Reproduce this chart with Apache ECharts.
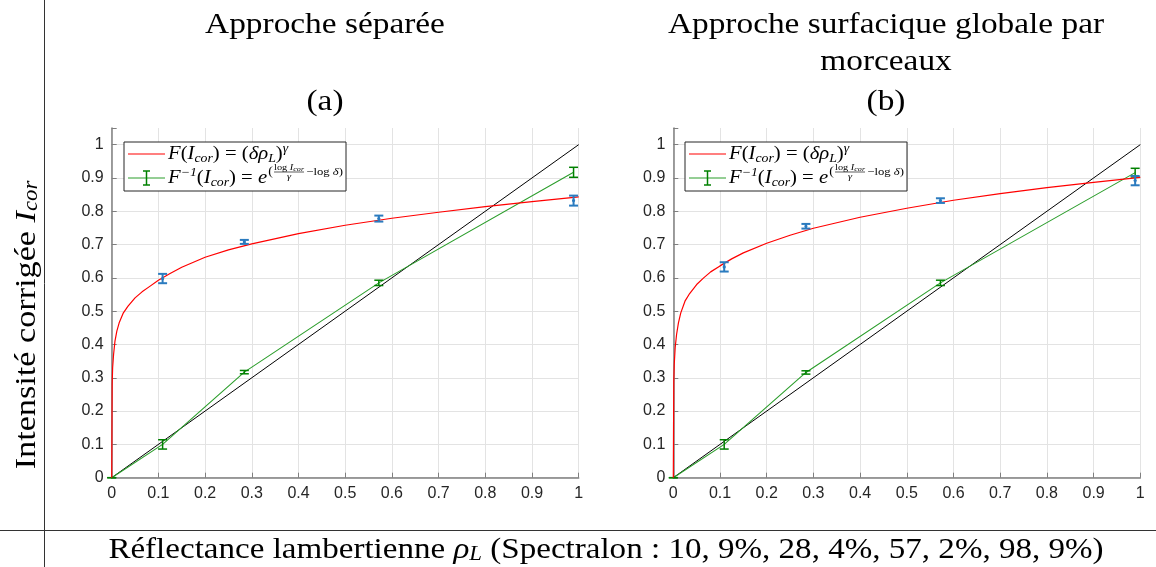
<!DOCTYPE html>
<html>
<head>
<meta charset="utf-8">
<script src="https://cdn.jsdelivr.net/npm/echarts@6/dist/echarts.min.js"></script>
<style>
  html, body { margin: 0; padding: 0; background: #fff; }
  #chart { width: 1156px; height: 567px; }
</style>
</head>
<body>
<div id="chart"></div>
<script>
// Spectralon reflectances (x of the measured points)
const reflectance = [0.109, 0.284, 0.572, 0.989]

// (a) separate approach
const measuredA = [0.598, 0.708, 0.778, 0.832]
const measuredErrA = [0.014, 0.006, 0.009, 0.015]
const inverseA = [0.100, 0.317, 0.585, 0.917]
const inverseErrA = [0.014, 0.005, 0.008, 0.015]
const fitXA = [0, 0.001, 0.002, 0.004, 0.007, 0.011, 0.016, 0.025, 0.035, 0.05, 0.065, 0.08, 0.1,
  0.125, 0.15, 0.2, 0.25, 0.3, 0.4, 0.5, 0.6, 0.7, 0.8, 0.9, 1.0]
const fitYA = [0, 0.28, 0.33, 0.37, 0.41, 0.44, 0.465, 0.495, 0.515, 0.54, 0.558, 0.573, 0.593,
  0.613, 0.632, 0.662, 0.684, 0.702, 0.733, 0.758, 0.779, 0.797, 0.814, 0.829, 0.843]

// (b) piecewise global surface approach
const measuredB = [0.633, 0.755, 0.832, 0.892]
const measuredErrB = [0.014, 0.007, 0.007, 0.014]
const inverseB = [0.100, 0.316, 0.585, 0.916]
const inverseErrB = [0.014, 0.005, 0.008, 0.013]
const fitXB = fitXA
const fitYB = [0, 0.29, 0.34, 0.39, 0.43, 0.465, 0.495, 0.53, 0.553, 0.58, 0.6, 0.618, 0.636,
  0.657, 0.675, 0.704, 0.728, 0.749, 0.782, 0.809, 0.833, 0.853, 0.871, 0.887, 0.902]

const identity = [[0, 0], [1, 1]]

const serif = 'Liberation Serif'
const sans = 'Liberation Sans'
const blue = '#2b7bbf'
const green = '#008000'
const stretch = 1.15 // Liberation Serif is narrower than the LaTeX font

function pairs(xs, ys) {
  return xs.map((x, i) => [x, ys[i]])
}
function withOrigin(vals) {
  return [[0, 0]].concat(reflectance.map((x, i) => [x, vals[i]]))
}
function errData(vals, errs, origin) {
  const rows = reflectance.map((x, i) => [x, vals[i] - errs[i], vals[i] + errs[i], vals[i]])
  return origin ? [[0, 0, 0, 0]].concat(rows) : rows
}

function errorBar(color, width, dot) {
  return function(params, api) {
    const x = api.value(0)
    const lo = api.coord([x, api.value(1)])
    const hi = api.coord([x, api.value(2)])
    const mid = api.coord([x, api.value(3)])
    const half = 4.5
    const style = { stroke: color, lineWidth: width }
    const children = [
      { type: 'line', shape: { x1: lo[0], y1: lo[1], x2: hi[0], y2: hi[1] }, style },
      { type: 'line', shape: { x1: lo[0] - half, y1: lo[1], x2: lo[0] + half, y2: lo[1] }, style },
      { type: 'line', shape: { x1: hi[0] - half, y1: hi[1], x2: hi[0] + half, y2: hi[1] }, style }
    ]
    if (dot) children.push({ type: 'circle', shape: { cx: mid[0], cy: mid[1], r: 1.6 }, style: { fill: color } })
    return { type: 'group', children }
  }
}

const gridColors = ['#e3e3e3', '#e3e3e3', '#e3e3e3', '#e3e3e3', '#e3e3e3', '#e3e3e3',
  '#e3e3e3', '#e3e3e3', '#e3e3e3', '#e3e3e3', '#e3e3e3', 'rgba(0,0,0,0)']

function xAxis(idx) {
  return {
    type: 'value', gridIndex: idx, min: 0, max: 1, interval: 0.1,
    axisLine: { lineStyle: { color: '#7f7f7f', width: 1.5 } },
    axisTick: { inside: true, length: 5, lineStyle: { color: '#7f7f7f' } },
    axisLabel: { color: '#262626', fontFamily: sans, fontSize: 16, margin: 8,
      formatter: v => String(+v.toFixed(1)) },
    splitLine: { show: true, lineStyle: { color: '#e3e3e3', width: 1 } }
  }
}
function yAxis(idx) {
  return {
    type: 'value', gridIndex: idx, min: 0, max: 1.05, interval: 0.1,
    axisLine: { show: true, lineStyle: { color: '#7f7f7f', width: 1.5 } },
    axisTick: { show: true, inside: true, length: 5, lineStyle: { color: '#7f7f7f' } },
    axisLabel: { color: '#262626', fontFamily: sans, fontSize: 16, margin: 8,
      formatter: v => (v > 1.001 ? '' : String(+v.toFixed(1))) },
    splitLine: { show: true, lineStyle: { color: gridColors, width: 1 } }
  }
}

function plotSeries(idx, fit, measured, measuredErr, inverse, inverseErr) {
  return [
    { type: 'line', xAxisIndex: idx, yAxisIndex: idx, data: identity, showSymbol: false,
      lineStyle: { color: '#000', width: 1 }, silent: true, z: 2 },
    { type: 'line', xAxisIndex: idx, yAxisIndex: idx, data: withOrigin(inverse), showSymbol: false,
      lineStyle: { color: '#2a9d2a', width: 1.1 }, z: 3 },
    { type: 'custom', xAxisIndex: idx, yAxisIndex: idx, data: errData(inverse, inverseErr, true),
      encode: { x: 0, y: [1, 2] }, renderItem: errorBar(green, 1.5, false), z: 4 },
    { type: 'line', xAxisIndex: idx, yAxisIndex: idx, data: fit, showSymbol: false,
      lineStyle: { color: '#ff0000', width: 1.2 }, z: 5 },
    { type: 'custom', xAxisIndex: idx, yAxisIndex: idx, data: errData(measured, measuredErr, false),
      encode: { x: 0, y: [1, 2] }, renderItem: errorBar(blue, 2, true), z: 6 }
  ]
}

// text measuring, to lay out the hand-built legend formula
const measureCtx = document.createElement('canvas').getContext('2d')
function textWidth(str, font) {
  measureCtx.font = font
  return measureCtx.measureText(str).width
}

const mathRich = {
  i: { fontFamily: serif, fontStyle: 'italic', fontSize: 18, lineHeight: 22, verticalAlign: 'middle', fill: '#000' },
  r: { fontFamily: serif, fontSize: 18, lineHeight: 22, verticalAlign: 'middle', fill: '#000' },
  sub: { fontFamily: serif, fontStyle: 'italic', fontSize: 12, lineHeight: 12, verticalAlign: 'bottom', fill: '#000' },
  sup: { fontFamily: serif, fontStyle: 'italic', fontSize: 12, lineHeight: 12, verticalAlign: 'top', fill: '#000' }
}

function legendBox(x0, y0) {
  const row1 = y0 + 12
  const row2 = y0 + 36
  const partA = textWidth('F', 'italic 18px ' + serif) + textWidth('\u22121', 'italic 12px ' + serif) +
    textWidth('(', '18px ' + serif) + textWidth('I', 'italic 18px ' + serif) +
    textWidth('cor', 'italic 12px ' + serif) + textWidth(') = ', '18px ' + serif) +
    textWidth('e', 'italic 18px ' + serif)
  const ex = partA + 1
  const parenW = textWidth('(', '12px ' + serif)
  const numW = textWidth('log ', '9px ' + serif) + textWidth('I', 'italic 9px ' + serif) +
    textWidth('cor', 'italic 7px ' + serif)
  const fx = ex + parenW + 1
  const small = { fontFamily: serif, fontSize: 9, fill: '#000' }
  return {
    type: 'group',
    children: [
      { type: 'rect', shape: { x: x0, y: y0, width: 222, height: 49 },
        style: { fill: '#fff', stroke: '#262626', lineWidth: 1 }, z: 50 },
      { type: 'line', shape: { x1: x0 + 4, y1: row1, x2: x0 + 41, y2: row1 },
        style: { stroke: '#ff0000', lineWidth: 1.2 }, z: 51 },
      { type: 'line', shape: { x1: x0 + 4, y1: row2, x2: x0 + 41, y2: row2 },
        style: { stroke: '#2a9d2a', lineWidth: 1 }, z: 51 },
      { type: 'line', shape: { x1: x0 + 22.5, y1: row2 - 7, x2: x0 + 22.5, y2: row2 + 7 },
        style: { stroke: green, lineWidth: 1.5 }, z: 51 },
      { type: 'line', shape: { x1: x0 + 19, y1: row2 - 7, x2: x0 + 26, y2: row2 - 7 },
        style: { stroke: green, lineWidth: 1.5 }, z: 51 },
      { type: 'line', shape: { x1: x0 + 19, y1: row2 + 7, x2: x0 + 26, y2: row2 + 7 },
        style: { stroke: green, lineWidth: 1.5 }, z: 51 },
      {
        type: 'group', x: x0 + 44, y: 0, scaleX: stretch,
        children: [
          { type: 'text', x: 0, y: row1, z: 52,
            style: { text: '{i|F}{r|(}{i|I}{sub|cor}{r|) = (}{i|\u03b4\u03c1}{sub|L}{r|)}{sup|\u03b3}',
              rich: mathRich, verticalAlign: 'middle', align: 'left' } },
          { type: 'text', x: 0, y: row2, z: 52,
            style: { text: '{i|F}{sup|\u22121}{r|(}{i|I}{sub|cor}{r|) = }{i|e}',
              rich: mathRich, verticalAlign: 'middle', align: 'left' } },
          { type: 'text', x: ex, y: row2 - 6, z: 52,
            style: { text: '(', fontFamily: serif, fontSize: 12, fill: '#000', verticalAlign: 'middle' } },
          { type: 'text', x: fx + numW / 2, y: row2 - 10, z: 52,
            style: { text: '{r|log }{i|I}{s|cor}', align: 'center', verticalAlign: 'middle',
              rich: { r: small, i: Object.assign({ fontStyle: 'italic' }, small),
                s: { fontFamily: serif, fontStyle: 'italic', fontSize: 7, fill: '#000', verticalAlign: 'bottom' } } } },
          { type: 'line', shape: { x1: fx, y1: row2 - 6, x2: fx + numW, y2: row2 - 6 },
            style: { stroke: '#000', lineWidth: 0.6 }, z: 52 },
          { type: 'text', x: fx + numW / 2, y: row2 - 1.5, z: 52,
            style: { text: '\u03b3', fontFamily: serif, fontStyle: 'italic', fontSize: 9, fill: '#000',
              align: 'center', verticalAlign: 'middle' } },
          { type: 'text', x: fx + numW + 2, y: row2 - 6, z: 52,
            style: { text: '{r|\u2212log }{i|\u03b4}{r|)}', verticalAlign: 'middle',
              rich: { r: { fontFamily: serif, fontSize: 11, fill: '#000' },
                i: { fontFamily: serif, fontStyle: 'italic', fontSize: 11, fill: '#000' } } } }
        ]
      }
    ]
  }
}

function plainText(str, x, y, size) {
  return { type: 'text', x, y, scaleX: stretch,
    style: { text: str, fontFamily: serif, fontSize: size, fill: '#000', align: 'center', verticalAlign: 'middle' } }
}

function labelRich(size) {
  return {
    r: { fontFamily: serif, fontSize: size, fill: '#000' },
    i: { fontFamily: serif, fontStyle: 'italic', fontSize: size, fill: '#000' },
    s: { fontFamily: serif, fontStyle: 'italic', fontSize: Math.round(size * 0.68), fill: '#000',
      verticalAlign: 'bottom', lineHeight: Math.round(size * 0.65) }
  }
}

const chart = echarts.init(document.getElementById('chart'))
chart.setOption({
  animation: false,
  backgroundColor: '#fff',
  grid: [
    { left: 111.7, top: 128, width: 467, height: 349.7 },
    { left: 673.3, top: 128, width: 467, height: 349.7 }
  ],
  xAxis: [xAxis(0), xAxis(1)],
  yAxis: [yAxis(0), yAxis(1)],
  series: [].concat(
    plotSeries(0, pairs(fitXA, fitYA), measuredA, measuredErrA, inverseA, inverseErrA),
    plotSeries(1, pairs(fitXB, fitYB), measuredB, measuredErrB, inverseB, inverseErrB)
  ),
  graphic: [
    { type: 'line', shape: { x1: 44.5, y1: 0, x2: 44.5, y2: 567 }, style: { stroke: '#333', lineWidth: 1 } },
    { type: 'line', shape: { x1: 0, y1: 530.5, x2: 1156, y2: 530.5 }, style: { stroke: '#333', lineWidth: 1 } },
    plainText('Approche s\u00e9par\u00e9e', 325, 25, 29),
    plainText('(a)', 325, 102, 29),
    plainText('Approche surfacique globale par', 886, 25, 29),
    plainText('morceaux', 886, 62, 29),
    plainText('(b)', 886, 102, 29),
    { type: 'text', x: 27, y: 325, rotation: Math.PI / 2, scaleX: 1.14,
      style: { text: '{r|Intensit\u00e9 corrig\u00e9e }{i|I}{s|cor}', rich: labelRich(30),
        align: 'center', verticalAlign: 'middle' } },
    { type: 'text', x: 606, y: 550, scaleX: 1.14,
      style: { text: '{r|R\u00e9flectance lambertienne }{i|\u03c1}{s|L}{r| (Spectralon : 10, 9%, 28, 4%, 57, 2%, 98, 9%)}',
        rich: labelRich(29), align: 'center', verticalAlign: 'middle' } },
    legendBox(124, 142),
    legendBox(685, 142)
  ]
})
</script>
</body>
</html>
